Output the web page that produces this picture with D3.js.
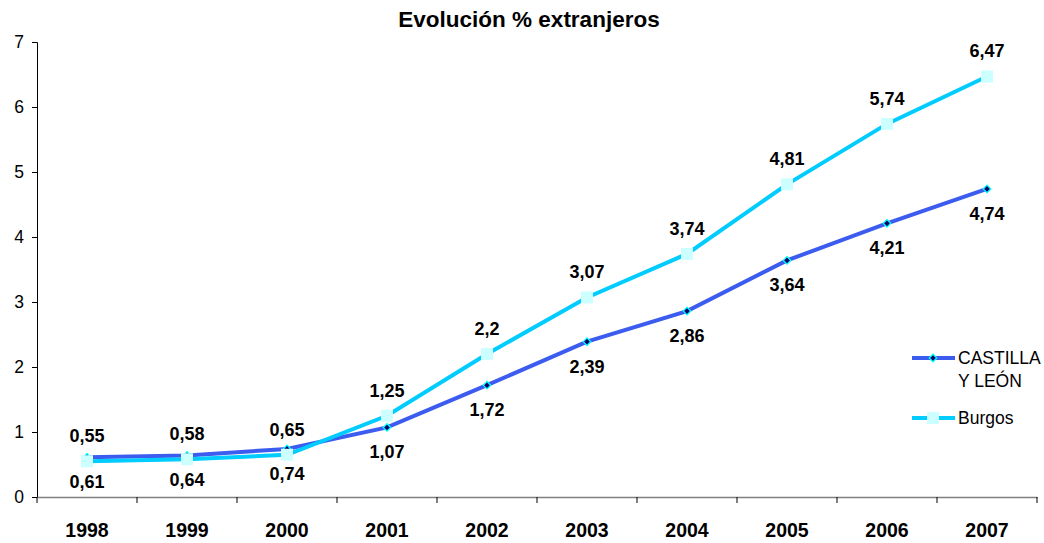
<!DOCTYPE html>
<html><head><meta charset="utf-8">
<script src="https://cdn.jsdelivr.net/npm/d3@7"></script>
<style>body{margin:0;background:#fff;}svg{display:block;font-family:"Liberation Sans",Arial,sans-serif;}</style>
</head><body>
<svg id="c" width="1044" height="543"></svg>
<script>
const years = ["1998","1999","2000","2001","2002","2003","2004","2005","2006","2007"];
const castillaLeon = [0.61,0.64,0.74,1.07,1.72,2.39,2.86,3.64,4.21,4.74];
const burgos = [0.55,0.58,0.65,1.25,2.2,3.07,3.74,4.81,5.74,6.47];
const yTicks = [0,1,2,3,4,5,6,7];
const seriesNames = ["CASTILLA Y LEÓN","Burgos"];
const title = "Evolución % extranjeros";

const FF = "Liberation Sans, Arial, sans-serif";
const svg = d3.select("#c");
const L = 37, R = 1037, T = 42, B = 497;
const x = d3.scaleBand().domain(years).range([L, R]);
const y = d3.scaleLinear().domain([0,7]).range([B, T]);
const fmt = v => String(v).replace(".", ",");

svg.append("text").attr("x", 529).attr("y", 27).attr("text-anchor","middle")
  .attr("font-size", 22.5).attr("font-weight","bold").attr("font-family",FF).text(title);

const ya = svg.append("g").attr("transform", `translate(${L},0)`)
  .call(d3.axisLeft(y).tickValues(yTicks).tickSize(5).tickPadding(8).tickFormat(d3.format("d")));
ya.select(".domain").attr("stroke","#000");
ya.selectAll(".tick line").attr("stroke","#000");
ya.selectAll("text").attr("font-size",17.5).attr("fill","#000").attr("font-family",FF);

const xa = svg.append("g").attr("transform", `translate(0,${B})`)
  .call(d3.axisBottom(x).tickSize(0).tickPadding(26));
xa.select(".domain").attr("stroke","#808080").attr("stroke-width",1.5);
xa.selectAll("text").attr("font-size",19.5).attr("font-weight","bold").attr("fill","#000").attr("font-family",FF);
const bounds = years.map(d => x(d)).concat([R]);
svg.append("g").selectAll("line").data(bounds).join("line")
  .attr("x1", d => d).attr("x2", d => d).attr("y1", B).attr("y2", B + 6)
  .attr("stroke", "#000");

const cx = d => x(d) + x.bandwidth()/2;
const line = d3.line().x((d,i) => cx(years[i])).y(d => y(d));

const cylColor = "#3C5CF0", burColor = "#00CCFF";

svg.append("path").datum(castillaLeon).attr("d", line).attr("fill","none")
  .attr("stroke", cylColor).attr("stroke-width", 4);
svg.append("path").datum(burgos).attr("d", line).attr("fill","none")
  .attr("stroke", burColor).attr("stroke-width", 4);

const diamond = d3.symbol().type(d3.symbolSquare).size(28);
svg.append("g").selectAll("path").data(castillaLeon).join("path")
  .attr("d", diamond).attr("transform", (d,i) => `translate(${cx(years[i])},${y(d)}) rotate(45)`)
  .attr("fill", "#000066").attr("stroke", "#00FFFF").attr("stroke-width", 1.3);
svg.append("g").selectAll("rect").data(burgos).join("rect")
  .attr("x", (d,i) => cx(years[i]) - 6).attr("y", d => y(d) - 6)
  .attr("width", 12).attr("height", 12).attr("fill", "#CCFFFF");

svg.append("g").selectAll("text").data(burgos).join("text")
  .attr("x", (d,i) => cx(years[i])).attr("y", d => y(d) - 19)
  .attr("text-anchor","middle").attr("font-size",18).attr("font-weight","bold").attr("font-family",FF).text(fmt);
svg.append("g").selectAll("text").data(castillaLeon).join("text")
  .attr("x", (d,i) => cx(years[i])).attr("y", d => y(d) + 31)
  .attr("text-anchor","middle").attr("font-size",18).attr("font-weight","bold").attr("font-family",FF).text(fmt);

const lg = svg.append("g").attr("font-family",FF).attr("font-size",17.5);
lg.append("line").attr("x1",912).attr("x2",955).attr("y1",358).attr("y2",358).attr("stroke",cylColor).attr("stroke-width",4);
lg.append("path").attr("d",diamond).attr("transform","translate(933,358) rotate(45)").attr("fill","#000066").attr("stroke","#00FFFF").attr("stroke-width",1.3);
lg.append("text").attr("x",958).attr("y",364).text("CASTILLA");
lg.append("text").attr("x",958).attr("y",387).text("Y LEÓN");
lg.append("line").attr("x1",912).attr("x2",955).attr("y1",418).attr("y2",418).attr("stroke",burColor).attr("stroke-width",4);
lg.append("rect").attr("x",927).attr("y",412).attr("width",12).attr("height",12).attr("fill","#CCFFFF");
lg.append("text").attr("x",958).attr("y",424).text(seriesNames[1]);
</script>
</body></html>
